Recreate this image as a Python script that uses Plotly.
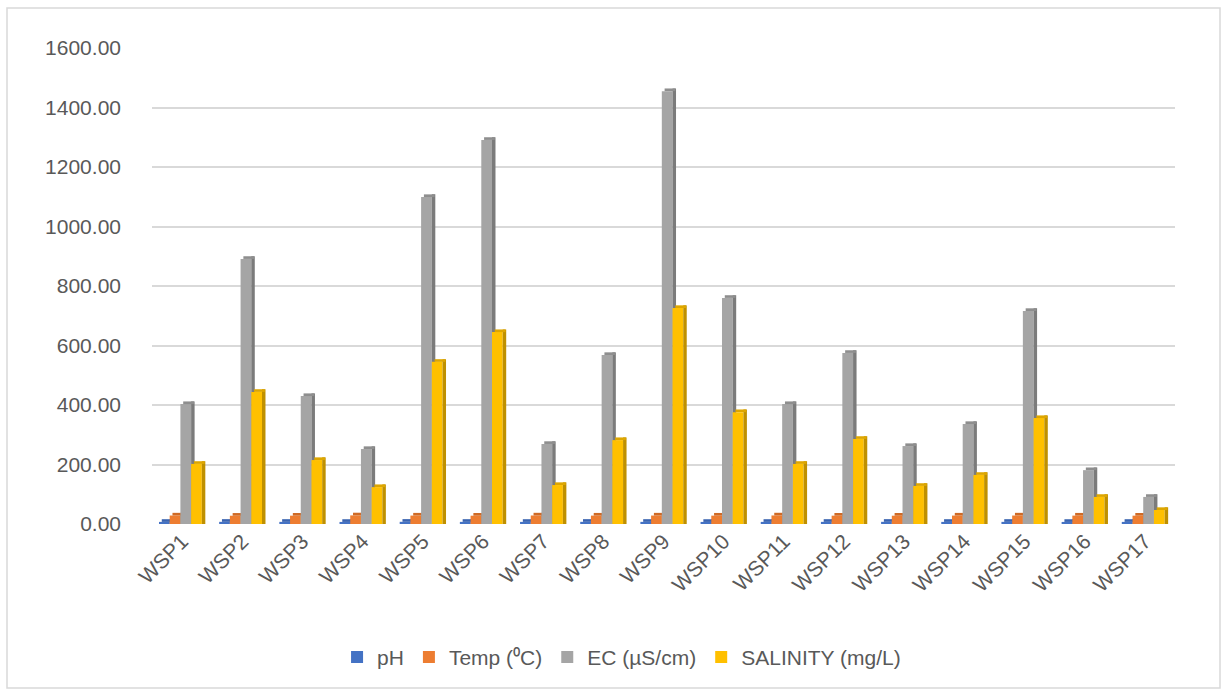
import plotly.graph_objects as go

categories = ["WSP1", "WSP2", "WSP3", "WSP4", "WSP5", "WSP6", "WSP7", "WSP8", "WSP9",
              "WSP10", "WSP11", "WSP12", "WSP13", "WSP14", "WSP15", "WSP16", "WSP17"]
ph = [7.1, 7.3, 7.2, 7.0, 7.4, 7.2, 7.1, 7.3, 7.2, 7.0, 7.1, 7.2, 7.3, 7.1, 7.2, 7.0, 7.1]
temp = [28.5, 27.8, 28.0, 28.9, 28.3, 27.9, 28.6, 28.2, 28.4, 28.1, 28.7, 28.0, 27.9, 28.3, 28.5, 28.2, 28.0]
ec = [403, 891, 430, 252, 1099, 1291, 269, 568, 1455, 760, 403, 575, 262, 336, 716, 181, 91]
salinity = [202, 444, 215, 124, 545, 645, 131, 282, 726, 376, 202, 286, 128, 165, 356, 91, 47]

series = [
    ("pH", ph, "#4472C4", "#2F5597", "#3A64B0"),
    ("Temp (⁰C)", temp, "#ED7D31", "#AE5A21", "#D06A25"),
    ("EC (µS/cm)", ec, "#A5A5A5", "#7B7B7B", "#8E8E8E"),
    ("SALINITY (mg/L)", salinity, "#FFC000", "#BF9000", "#DDA600"),
]

bar_w = 0.178
side_w = 0.058
start = -0.384
top_h = 9  # depth of the 3D top face, in axis units

fig = go.Figure()
for i, (name, vals, col, dark, mid) in enumerate(series):
    off = start + i * bar_w
    fig.add_trace(go.Bar(x=categories, y=vals, name=name, marker_color=col,
                         marker_line_width=0, offset=off, width=bar_w))
    fig.add_trace(go.Bar(x=categories, y=[v + top_h for v in vals], name=name + " side",
                         marker_color=dark, marker_line_width=0,
                         offset=off + bar_w, width=side_w,
                         showlegend=False, hoverinfo="skip"))
    fig.add_trace(go.Bar(x=categories, y=[top_h] * len(vals), base=vals,
                         name=name + " top", marker_color=mid, marker_line_width=0,
                         offset=off + side_w * 0.8, width=bar_w,
                         showlegend=False, hoverinfo="skip"))

font_color = "#595959"
fig.update_layout(
    width=1225, height=691,
    margin=dict(l=152, r=50, t=48, b=167),
    barmode="overlay",
    paper_bgcolor="white", plot_bgcolor="white",
    font=dict(family="Liberation Sans", color=font_color, size=21),
    showlegend=True,
    legend=dict(orientation="h", x=0.459, xanchor="center", y=-0.28, yanchor="middle",
                font=dict(size=21, color=font_color), itemwidth=30,
                traceorder="normal"),
    xaxis=dict(showgrid=False, showline=False, zeroline=False, ticks="",
               tickangle=-45, tickfont=dict(size=21, color=font_color)),
    yaxis=dict(range=[0, 1600], dtick=200, tickformat=".2f", showgrid=True,
               gridcolor="#D9D9D9", gridwidth=1.5, zeroline=False, showline=False,
               ticks="", ticklabelstandoff=30,
               tickfont=dict(size=21, color=font_color)),
    shapes=[dict(type="rect", xref="paper", yref="paper",
                 x0=(7 - 152) / 1023, x1=(1220 - 152) / 1023,
                 y0=(524 - 688) / 476, y1=(524 - 8) / 476,
                 line=dict(color="#D9D9D9", width=1.5), fillcolor="rgba(0,0,0,0)",
                 layer="below")],
)

fig.write_html("out.html", config={"displayModeBar": False},
               post_script="document.body.style.margin='0';")
